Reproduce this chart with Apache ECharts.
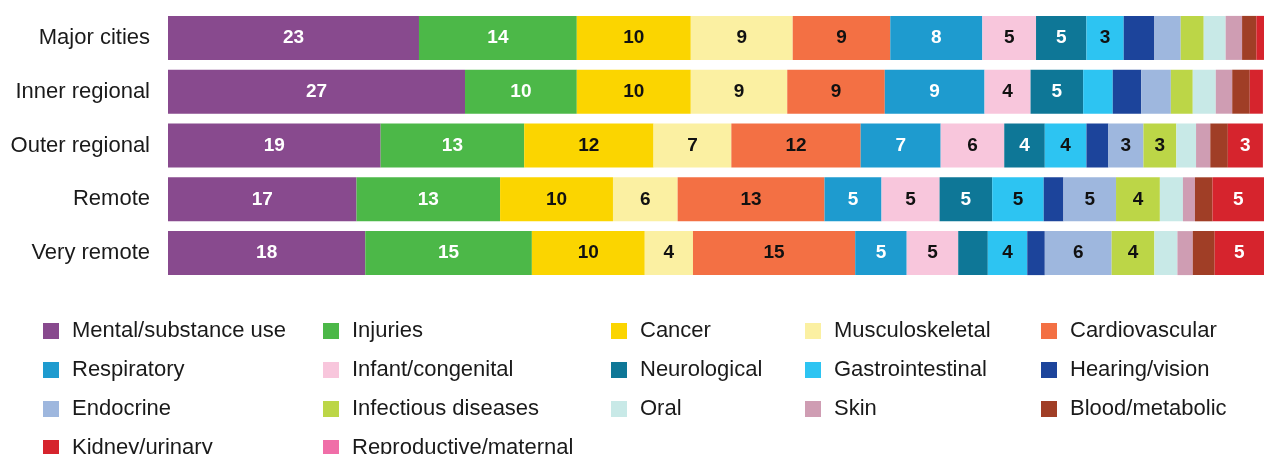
<!DOCTYPE html>
<html>
<head>
<meta charset="utf-8">
<script src="https://cdn.jsdelivr.net/npm/echarts@6/dist/echarts.min.js"></script>
<style>
  html, body { margin: 0; padding: 0; background: #fff; }
  #chart { width: 1264px; height: 454px; }
</style>
</head>
<body>
<div id="chart"></div>
<script>
// Share of disease burden by remoteness (%)
const regions = ["Major cities", "Inner regional", "Outer regional", "Remote", "Very remote"];

const groups = [
    "Mental/substance use", "Injuries", "Cancer", "Musculoskeletal", "Cardiovascular",
    "Respiratory", "Infant/congenital", "Neurological", "Gastrointestinal", "Hearing/vision",
    "Endocrine", "Infectious diseases", "Oral", "Skin", "Blood/metabolic",
    "Kidney/urinary", "Reproductive/maternal"
];

// values per group, in the order of regions
const mental       = [22.9, 27.1, 19.4, 17.2, 18.0];
const injuries     = [14.4, 10.2, 13.1, 13.1, 15.2];
const cancer       = [10.4, 10.4, 11.8, 10.3, 10.3];
const musculo      = [9.3, 8.8, 7.1, 5.9, 4.4];
const cardio       = [8.9, 8.9, 11.8, 13.4, 14.8];
const respiratory  = [8.4, 9.1, 7.3, 5.2, 4.7];
const infant       = [4.9, 4.2, 5.8, 5.3, 4.7];
const neuro        = [4.6, 4.8, 3.7, 4.8, 2.7];
const gastro       = [3.4, 2.7, 3.8, 4.7, 3.6];
const hearing      = [2.8, 2.6, 2.0, 1.8, 1.6];
const endocrine    = [2.4, 2.7, 3.2, 4.8, 6.1];
const infectious   = [2.1, 2.0, 3.0, 4.0, 3.9];
const oral         = [2.0, 2.1, 1.8, 2.1, 2.1];
const skin         = [1.5, 1.5, 1.3, 1.1, 1.4];
const blood        = [1.3, 1.6, 1.6, 1.6, 2.0];
const kidney       = [0.7, 1.2, 3.2, 4.7, 4.5];
const reproductive = [0, 0, 0, 0, 0];

const values = [mental, injuries, cancer, musculo, cardio, respiratory, infant, neuro,
    gastro, hearing, endocrine, infectious, oral, skin, blood, kidney, reproductive];

const colors = [
    "#884a8e", "#4cb848", "#fbd500", "#fbf0a2", "#f37044",
    "#1e9bcf", "#f8c6dc", "#0e7797", "#2dc4f2", "#1c449b",
    "#9eb7de", "#bcd647", "#c8e9e7", "#cf9db3", "#a03e26",
    "#d6242d", "#f06ea8"
];
const whiteLabel = ["Mental/substance use", "Injuries", "Respiratory", "Neurological",
    "Hearing/vision", "Blood/metabolic", "Kidney/urinary"];

const font = "'Liberation Sans', Arial, sans-serif";

const series = groups.map((name, i) => ({
    name,
    type: "bar",
    stack: "total",
    barWidth: 44,
    data: values[i],
    itemStyle: { color: colors[i] },
    label: {
        show: true,
        position: "inside",
        fontFamily: font,
        fontWeight: "bold",
        fontSize: 19,
        color: whiteLabel.includes(name) ? "#fff" : "#111",
        formatter: p => p.value >= 3 ? String(Math.round(p.value)) : ""
    },
    emphasis: { disabled: true }
}));

// legend laid out as 5 columns, filled row by row
const colX = [38, 318, 606, 800, 1036];
const legends = colX.map((x, c) => ({
    orient: "vertical",
    left: x,
    top: 315,
    height: 200,
    itemWidth: 16,
    itemHeight: 16,
    itemGap: 17,
    selectedMode: false,
    icon: "rect",
    data: groups.filter((g, i) => i % 5 === c),
    textStyle: {
        fontFamily: font,
        fontSize: 22,
        color: "#1a1a1a",
        padding: [0, 0, 0, 8]
    }
}));

const chart = echarts.init(document.getElementById("chart"));
chart.setOption({
    animation: false,
    backgroundColor: "#fff",
    grid: { left: 168, right: 0, top: 11, height: 269 },
    xAxis: { type: "value", min: 0, max: 100, show: false },
    yAxis: {
        type: "category",
        data: regions,
        inverse: true,
        axisLine: { show: false },
        axisTick: { show: false },
        axisLabel: { fontFamily: font, fontSize: 22, color: "#1a1a1a", margin: 18 }
    },
    legend: legends,
    series
});
</script>
</body>
</html>
